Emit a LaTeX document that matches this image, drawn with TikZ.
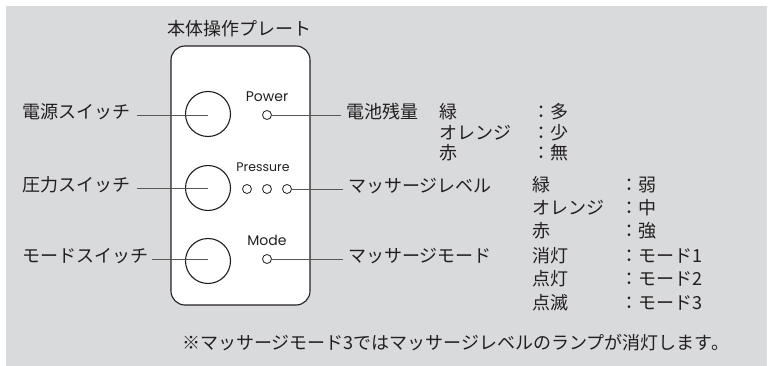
\documentclass[tikz,border=0pt]{standalone}
\usepackage{fontspec}
\setmainfont{Noto Sans CJK JP}
\newfontfamily\latinfont{Poppins}
\definecolor{panelGray}{HTML}{D9DADC}
\definecolor{inkBlack}{HTML}{231F20}

\begin{document}
\begin{tikzpicture}[x=1pt,y=-1pt]
\tikzstyle{jpText}=[font=\fontsize{18pt}{20pt}\selectfont, text=inkBlack, inner sep=0pt, anchor=west, text height=0.83em, text depth=0.07em]
\tikzstyle{enText}=[font=\latinfont\fontsize{14pt}{16pt}\selectfont, text=inkBlack, inner sep=0pt]
\tikzstyle{button}=[circle, draw=inkBlack, line width=1.1pt, minimum size=45pt, inner sep=0pt]
\tikzstyle{lamp}=[circle, draw=inkBlack, line width=0.8pt, minimum size=9pt, inner sep=0pt]
\tikzstyle{leader}=[draw=inkBlack!75, line width=0.8pt]

\useasboundingbox (0,0) rectangle (768,366);
\fill[panelGray] (6,6) rectangle (767,366);

%Plate
\node[draw=inkBlack, fill=white, line width=1.1pt, rounded corners=14pt, minimum width=139pt, minimum height=259pt] (plate) at (240.5,175.5) {};
\node[jpText, anchor=center] (plateTitle) at (239,32) {本体操作プレート};

%switch buttons
\node[button] (powerBtn)    at (208,114) {};
\node[button] (pressureBtn) at (208,188) {};
\node[button] (modeBtn)     at (208,261) {};

%lamp marks
\node[enText] (powerMark)    at (267,97)  {Power};
\node[enText, font=\latinfont\fontsize{12.5pt}{15pt}\selectfont] (pressureMark) at (263,167) {Pressure};
\node[enText] (modeMark)     at (267,240) {Mode};

%lamps
\node[lamp] (powerLamp)  at (267,115) {};
\node[lamp] (levelLampA) at (247,189) {};
\node[lamp] (levelLampB) at (267,189) {};
\node[lamp] (levelLampC) at (287,189) {};
\node[lamp] (modeLamp)   at (267,259) {};

%switch labels
\node[jpText] (powerSwitch)    at (22,115) {電源スイッチ};
\node[jpText] (pressureSwitch) at (22,188) {圧力スイッチ};
\node[jpText] (modeSwitch)     at (22,259) {モードスイッチ};

%lamp labels
\node[jpText] (batteryLabel) at (346,115) {電池残量};
\node[jpText] (levelLabel)   at (348,189) {マッサージレベル};
\node[jpText] (modeLabel)    at (348,259) {マッサージモード};

%battery rows
\node[jpText] (battGreen)  at (439,115) {緑};
\node[jpText] (battOrange) at (439,136) {オレンジ};
\node[jpText] (battRed)    at (439,156) {赤};
\node[jpText] (battMany)   at (532,115) {：多};
\node[jpText] (battFew)    at (532,136) {：少};
\node[jpText] (battNone)   at (532,156) {：無};

%level rows
\node[jpText] (levelGreen)  at (532,188) {緑};
\node[jpText] (levelOrange) at (532,211) {オレンジ};
\node[jpText] (levelRed)    at (532,234) {赤};
\node[jpText] (levelWeak)   at (620,188) {：弱};
\node[jpText] (levelMid)    at (620,211) {：中};
\node[jpText] (levelStrong) at (620,234) {：強};

%mode rows
\node[jpText] (modeOff)   at (532,259) {消灯};
\node[jpText] (modeOn)    at (532,282) {点灯};
\node[jpText] (modeBlink) at (532,306) {点滅};
\node[jpText] (modeOne)   at (620,259) {：モード1};
\node[jpText] (modeTwo)   at (620,282) {：モード2};
\node[jpText] (modeThree) at (620,306) {：モード3};

%note
\node[jpText] (note) at (182,346) {※マッサージモード3ではマッサージレベルのランプが消灯します。};

% connections
\draw[leader, shorten <=7pt] (powerSwitch.east)    -- (powerSwitch.east -| powerBtn.center);
\draw[leader, shorten <=7pt] (pressureSwitch.east) -- (pressureSwitch.east -| pressureBtn.center);
\draw[leader, shorten <=4pt] (modeSwitch.east)     -- (modeSwitch.east -| modeBtn.center);

\draw[leader, shorten >=5pt] (powerLamp)  -- (batteryLabel.west);
\draw[leader, shorten >=5pt] (levelLampC) -- (levelLabel.west);
\draw[leader, shorten >=5pt] (modeLamp)   -- (modeLabel.west);

\end{tikzpicture}
\end{document}
